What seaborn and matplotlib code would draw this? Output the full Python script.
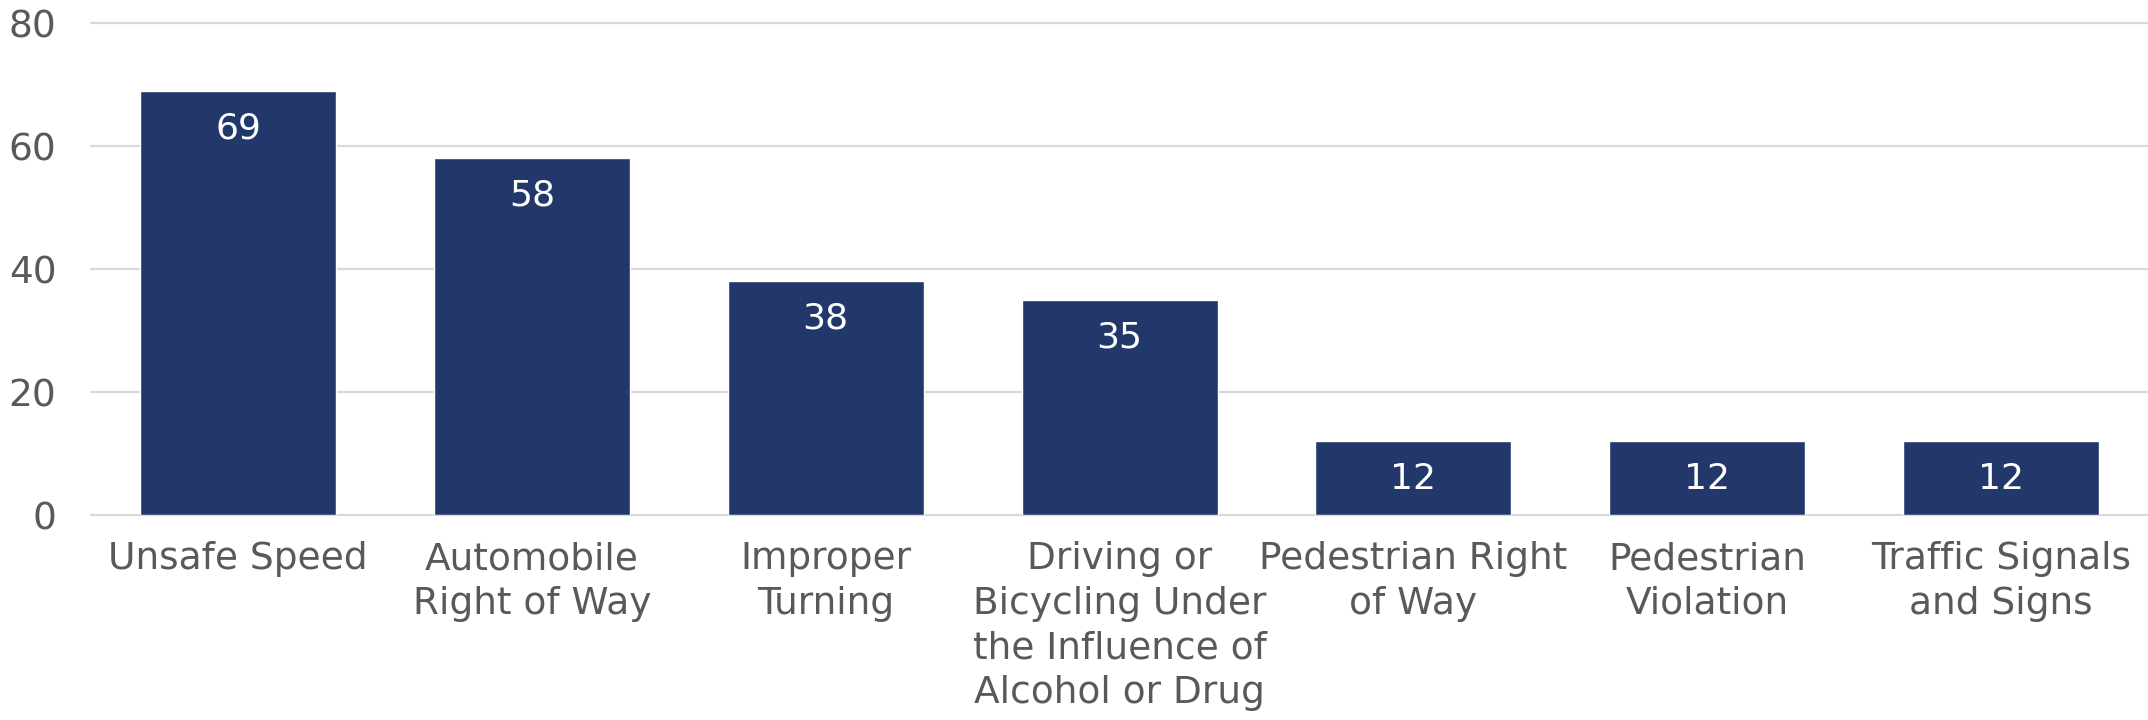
import matplotlib
matplotlib.use("Agg")
import matplotlib.pyplot as plt
import seaborn as sns
import pandas as pd

# Chart data
categories = ["Unsafe Speed", "Automobile Right of Way", "Improper Turning",
              "Driving or Bicycling Under the Influence of Alcohol or Drug",
              "Pedestrian Right of Way", "Pedestrian Violation",
              "Traffic Signals and Signs"]
tick_labels = ["Unsafe Speed", "Automobile\nRight of Way", "Improper\nTurning",
               "Driving or\nBicycling Under\nthe Influence of\nAlcohol or Drug",
               "Pedestrian Right\nof Way", "Pedestrian\nViolation",
               "Traffic Signals\nand Signs"]
counts = [69, 58, 38, 35, 12, 12, 12]
y_ticks = [0, 20, 40, 60, 80]

df = pd.DataFrame({"category": categories, "count": counts})

sns.set_style("white")
plt.rcParams['font.family'] = ['DejaVu Sans']

bar_color = "#22386A"
text_color = "#595959"
grid_color = "#D9D9D9"

fig = plt.figure(figsize=(21.48, 7.2), dpi=100)
ax = fig.add_axes([0.0424, 0.2847, 0.9576, 0.6833])

sns.barplot(data=df, x="category", y="count", color=bar_color, width=0.667,
            saturation=1, ax=ax)

# white value labels inside the top of each bar
for i, v in enumerate(counts):
    ax.annotate(str(v), xy=(i, v), xytext=(0, -27), textcoords="offset points",
                ha="center", va="center", color="white", fontsize=26)

ax.set_ylim(0, 80)
ax.set_yticks(y_ticks)
ax.set_xticks(range(len(categories)))
ax.set_xticklabels(tick_labels, linespacing=1.3)
ax.set_xlim(-0.5, len(categories) - 0.5)

ax.yaxis.grid(True, color=grid_color, linewidth=1.6)
ax.set_axisbelow(True)
for gl in ax.get_ygridlines():
    gl.set_clip_on(False)

for s in ax.spines.values():
    s.set_visible(False)

ax.tick_params(axis="y", length=0, pad=25, labelsize=27, labelcolor=text_color)
ax.tick_params(axis="x", length=0, pad=19, labelsize=27, labelcolor=text_color)
ax.set_xlabel("")
ax.set_ylabel("")

fig.savefig("out.png", dpi=100)
